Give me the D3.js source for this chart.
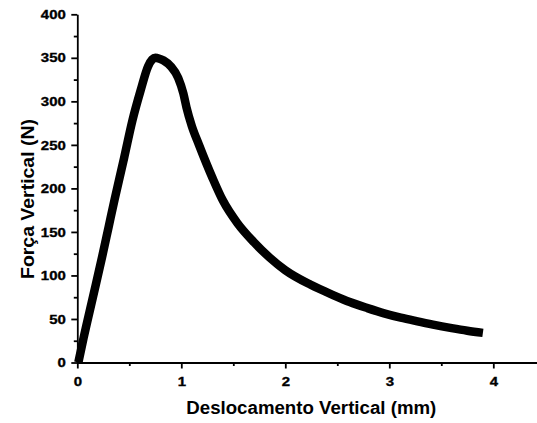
<!DOCTYPE html>
<html>
<head>
<meta charset="utf-8">
<script src="https://cdn.jsdelivr.net/npm/d3@7"></script>
<style>
  body { margin: 0; background: #fff; }
  text { font-family: "Liberation Sans", Arial, sans-serif; font-weight: bold; }
</style>
</head>
<body>
<svg id="chart" width="537" height="423"></svg>
<script>
// displacement (mm) and vertical force (N)
const displacement = [0.01, 0.06, 0.15, 0.24, 0.30, 0.36, 0.45, 0.53, 0.61, 0.68, 0.72, 0.75, 0.79, 0.83, 0.90, 0.97, 1.02, 1.05, 1.10, 1.17, 1.30, 1.40, 1.54, 1.70, 1.85, 2.00, 2.24, 2.46, 2.62, 2.79, 2.95, 3.11, 3.26, 3.42, 3.60, 3.75, 3.90]
const force = [0, 28, 75, 122, 155, 188, 235, 278, 313, 340, 348, 350, 349, 347, 340, 327, 309, 293, 272, 250, 212, 186, 160, 138, 120.5, 106, 89.5, 77.5, 69.5, 62.5, 56.5, 51.5, 47.5, 43.5, 39.5, 36.5, 34]

const xMajor = [0, 1, 2, 3, 4]
const xMinor = [0.5, 1.5, 2.5, 3.5]
const yMajor = [0, 50, 100, 150, 200, 250, 300, 350, 400]
const yMinor = [25, 75, 125, 175, 225, 275, 325, 375]

const nwidth = 537, nheight = 423
const margin = {top: 14.3, bottom: 60.5, left: 77.3, right: 0},
      width = nwidth - margin.left - margin.right,
      height = nheight - margin.top - margin.bottom

const x = d3.scaleLinear().domain([0, width / 104]).range([0, width])
const y = d3.scaleLinear().domain([0, 400]).range([height, 0])

// labels in the source are drawn a little wider than the font
const stretch = (sel, k) => sel.each(function() {
  const len = this.getComputedTextLength()
  d3.select(this).attr("textLength", len * k).attr("lengthAdjust", "spacingAndGlyphs")
})

const svg = d3.select("#chart")
const g = svg.append("g").attr("transform", `translate(${margin.left},${margin.top})`)

// minor ticks
g.append("g").attr("transform", `translate(0,${height})`)
  .call(d3.axisBottom(x).tickValues(xMinor).tickSize(3.5).tickFormat(""))
  .call(a => a.select(".domain").remove())
g.append("g")
  .call(d3.axisLeft(y).tickValues(yMinor).tickSize(3.5).tickFormat(""))
  .call(a => a.select(".domain").remove())

g.append("g").attr("transform", `translate(0,${height})`)
  .call(d3.axisBottom(x).tickValues(xMajor).tickSize(6).tickSizeOuter(0).tickPadding(8).tickFormat(d3.format("d")))
g.append("g")
  .call(d3.axisLeft(y).tickValues(yMajor).tickSize(6).tickSizeOuter(0).tickPadding(5.5).tickFormat(d3.format("d")))

g.selectAll(".domain, .tick line").attr("stroke", "#000").attr("stroke-width", 1.8)
g.selectAll(".tick text")
  .style("font-size", "13px").style("font-family", "'Liberation Sans', Arial, sans-serif").style("font-weight", "bold")
  .attr("fill", "#000").attr("stroke", "#000").attr("stroke-width", 0.35)
  .call(stretch, 1.15)

const line = d3.line()
  .x((d, i) => x(displacement[i]))
  .y(d => y(d))
  .curve(d3.curveMonotoneX)

g.append("path")
  .datum(force)
  .attr("d", line)
  .attr("fill", "none")
  .attr("stroke", "#000")
  .attr("stroke-width", 8.5)
  .attr("stroke-linejoin", "round")

svg.append("text")
  .attr("x", margin.left + x(2.25)).attr("y", 414)
  .attr("text-anchor", "middle")
  .style("font-size", "18px")
  .text("Deslocamento Vertical (mm)")
  .attr("textLength", 250).attr("lengthAdjust", "spacingAndGlyphs")

svg.append("text")
  .attr("transform", `translate(34,199) rotate(-90)`)
  .attr("text-anchor", "middle")
  .style("font-size", "18.5px")
  .text("Força Vertical (N)")
  .attr("textLength", 160).attr("lengthAdjust", "spacingAndGlyphs")
</script>
</body>
</html>
